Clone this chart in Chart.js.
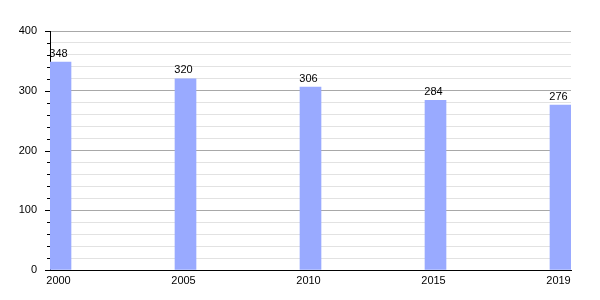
<!DOCTYPE html>
<html>
<head>
<meta charset="utf-8">
<script src="https://cdn.jsdelivr.net/npm/chart.js@4"></script>
<style>
  html, body { margin: 0; padding: 0; background: #fff; }
  #wrap { width: 600px; height: 300px; }
</style>
</head>
<body>
<div id="wrap"><canvas id="popChart" width="600" height="300"></canvas></div>
<script>
// chart values
const years = ['2000', '2005', '2010', '2015', '2019'];
const population = [348, 320, 306, 284, 276];

const points = population.map((v, i) => ({ x: i, y: v }));

// value labels above bars + small/large ticks on the y axis
const extras = {
    id: 'extras',
    afterDatasetsDraw(chart) {
        const ctx = chart.ctx;
        const meta = chart.getDatasetMeta(0);
        ctx.save();
        ctx.fillStyle = '#000';
        ctx.font = '11px "Liberation Sans", Arial, sans-serif';
        ctx.textAlign = 'center';
        ctx.textBaseline = 'bottom';
        meta.data.forEach((bar, i) => {
            ctx.fillText(population[i], bar.x - 2, bar.y - 3);
        });
        const y = chart.scales.y;
        const left = chart.chartArea.left;
        ctx.strokeStyle = '#000';
        ctx.lineWidth = 1;
        y.ticks.forEach(t => {
            const py = Math.round(y.getPixelForValue(t.value)) + 0.5;
            const len = t.value % 100 === 0 ? 5 : 3;
            ctx.beginPath();
            ctx.moveTo(left - len, py);
            ctx.lineTo(left, py);
            ctx.stroke();
        });
        ctx.restore();
    }
};

const config = {
    type: 'bar',
    data: {
        datasets: [{
            data: points,
            backgroundColor: '#99aaff',
            borderWidth: 0,
            barThickness: 21
        }]
    },
    options: {
        responsive: false,
        animation: false,
        layout: { padding: { top: 31, right: 29, left: 0, bottom: 0 } },
        plugins: {
            legend: { display: false },
            tooltip: { enabled: false }
        },
        scales: {
            x: {
                type: 'linear',
                offset: false,
                min: -0.084,
                max: 4.084,
                afterFit(scale) { scale.height = 30; },
                afterBuildTicks(scale) {
                    scale.ticks = years.map((y, i) => ({ value: i }));
                },
                grid: { display: false, drawTicks: false },
                border: { color: '#000', width: 1 },
                ticks: {
                    padding: 4,
                    labelOffset: -2,
                    color: '#000',
                    font: { family: '"Liberation Sans", Arial, sans-serif', size: 11 },
                    callback: (v) => years[v]
                }
            },
            y: {
                min: 0,
                max: 400,
                afterFit(scale) { scale.width = 50; },
                grid: {
                    drawTicks: false,
                    color: (c) => c.tick && c.tick.value % 100 === 0 ? '#a8a8a8' : '#e2e2e2'
                },
                border: { color: '#000', width: 1 },
                ticks: {
                    stepSize: 20,
                    padding: 13,
                    color: '#000',
                    autoSkip: false,
                    font: { family: '"Liberation Sans", Arial, sans-serif', size: 11 },
                    callback: (v) => v % 100 === 0 ? v : ''
                }
            }
        }
    },
    plugins: [extras]
};

new Chart(document.getElementById('popChart'), config);
</script>
</body>
</html>
